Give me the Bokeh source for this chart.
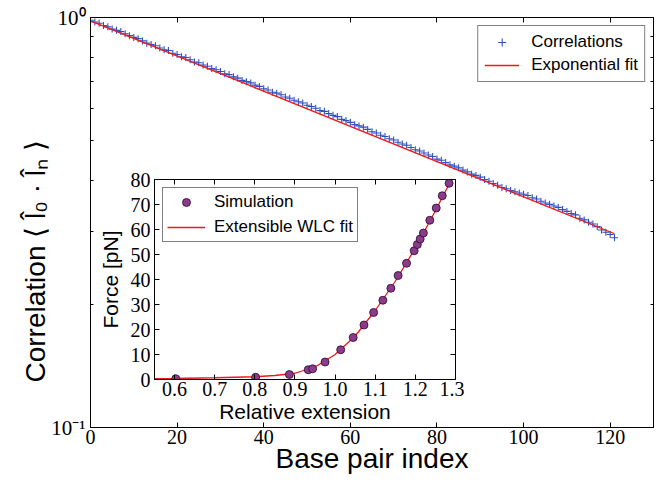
from bokeh.plotting import figure
from bokeh.models import (Range1d, FixedTicker, LinearAxis, LogAxis, CustomJSTickFormatter,
                          PrintfTickFormatter, Legend, LegendItem, GridBox)
from bokeh.embed import file_html
from bokeh.resources import INLINE

# ---------------- data: main panel ----------------
bp_index = list(range(122))
correlation = [
    0.9846, 0.9750, 0.9679, 0.9557, 0.9489, 0.9370, 0.9304, 0.9238, 0.9122, 0.9032,
    0.8943, 0.8880, 0.8768, 0.8658, 0.8596, 0.8535, 0.8428, 0.8345, 0.8310, 0.8182,
    0.8124, 0.8022, 0.7988, 0.7887, 0.7787, 0.7754, 0.7656, 0.7603, 0.7506, 0.7454,
    0.7381, 0.7287, 0.7256, 0.7165, 0.7114, 0.7025, 0.6975, 0.6926, 0.6839, 0.6791,
    0.6705, 0.6658, 0.6573, 0.6538, 0.6481, 0.6400, 0.6354, 0.6285, 0.6230, 0.6186,
    0.6108, 0.6065, 0.6005, 0.5929, 0.5904, 0.5830, 0.5773, 0.5732, 0.5644, 0.5604,
    0.5549, 0.5479, 0.5440, 0.5402, 0.5334, 0.5266, 0.5229, 0.5163, 0.5127, 0.5062,
    0.5027, 0.4963, 0.4914, 0.4880, 0.4818, 0.4758, 0.4724, 0.4672, 0.4619, 0.4581,
    0.4515, 0.4484, 0.4427, 0.4371, 0.4340, 0.4298, 0.4244, 0.4202, 0.4149, 0.4120,
    0.4079, 0.4027, 0.3988, 0.3938, 0.3899, 0.3850, 0.3823, 0.3785, 0.3758, 0.3732,
    0.3705, 0.3680, 0.3633, 0.3608, 0.3562, 0.3527, 0.3502, 0.3468, 0.3443, 0.3400,
    0.3366, 0.3324, 0.3301, 0.3240, 0.3209, 0.3168, 0.3137, 0.3089, 0.3033, 0.2995,
    0.2957, 0.2903,
]
fit_bp = [0, 121]
fit_corr = [0.9817, 0.2969]

x_ticks = [0, 20, 40, 60, 80, 100, 120]
y_major = [0.1, 1.0]
y_major_labels = ["10⁻¹", "10⁰"]
y_minor = [0.2, 0.3, 0.4, 0.5, 0.6, 0.7, 0.8, 0.9]

# ---------------- data: inset ----------------
rel_ext = [0.603, 0.802, 0.886, 0.933, 0.944, 0.975, 1.014, 1.045, 1.072, 1.096, 1.119,
           1.139, 1.157, 1.178, 1.197, 1.205, 1.212, 1.220, 1.236, 1.252, 1.267, 1.284]
force = [0.3, 0.9, 2.0, 3.9, 4.3, 7.0, 11.9, 16.8, 21.8, 26.8, 31.7,
         36.5, 41.6, 46.5, 51.5, 54.0, 56.2, 58.6, 63.7, 68.6, 73.5, 78.5]
wlc_ext = [0.55, 0.60, 0.70, 0.80, 0.85, 0.90, 0.95, 1.00, 1.05, 1.10, 1.15, 1.20, 1.25, 1.29]
wlc_force = [0.3, 0.4, 0.7, 1.1, 1.6, 2.5, 5.0, 10.0, 17.4, 27.6, 39.3, 52.6, 67.5, 80.0]
inset_x_ticks = [0.6, 0.7, 0.8, 0.9, 1.0, 1.1, 1.2, 1.3]
inset_y_ticks = [0, 10, 20, 30, 40, 50, 60, 70, 80]

BLUE = "#2f4fbf"
RED = "#f01818"
PURPLE = "#8c3a8c"
SERIF = "Liberation Serif"
SANS = "Liberation Sans"


def style_axis(ax, label_size="20px", axis_label_size="28px", minor=True):
    ax.axis_line_color = "black"
    ax.axis_line_width = 1
    ax.major_tick_line_color = "black"
    ax.major_tick_in = 5
    ax.major_tick_out = 0
    ax.minor_tick_line_color = "black" if minor else None
    ax.minor_tick_in = 3
    ax.minor_tick_out = 0
    ax.major_label_text_font = SERIF
    ax.major_label_text_font_size = label_size
    ax.major_label_text_color = "black"
    ax.axis_label_text_font = SANS
    ax.axis_label_text_font_size = axis_label_size
    ax.axis_label_text_font_style = "normal"
    ax.axis_label_text_color = "black"


def hide_labels(ax):
    ax.major_label_text_font_size = "0px"
    ax.major_label_standoff = 0
    ax.formatter = CustomJSTickFormatter(code="return '';")


# ---------------- main figure ----------------
p = figure(width=665, height=483, x_range=Range1d(0, 130), y_range=Range1d(0.1, 1.0),
           y_axis_type="log", output_backend="svg", toolbar_location=None,
           min_border_left=90, min_border_right=12, min_border_top=17, min_border_bottom=56)
p.background_fill_color = "white"
p.border_fill_color = "white"
p.outline_line_color = "black"
p.outline_line_width = 1
p.xgrid.visible = False
p.ygrid.visible = False

r_corr = p.scatter(bp_index, correlation, marker="cross", size=7, line_color=BLUE, line_width=1.1)
r_fit = p.line(fit_bp, fit_corr, line_color=RED, line_width=1.3)

xa = p.xaxis[0]
style_axis(xa, minor=False)
xa.ticker = FixedTicker(ticks=x_ticks)
xa.major_label_standoff = 2
xa.axis_label = "Base pair index"
xa.axis_label_standoff = -4

ya = p.yaxis[0]
style_axis(ya, label_size="21px")
ya.ticker = FixedTicker(ticks=y_major, minor_ticks=y_minor)
ya.formatter = CustomJSTickFormatter(
    args=dict(vals=y_major, labs=y_major_labels),
    code="for (let i = 0; i < vals.length; i++) { if (Math.abs(tick - vals[i]) < 1e-9) return labs[i]; } return '';")
ya.major_label_standoff = 5
ya.axis_label = "Correlation ⟨ l̂₀ · l̂ₙ ⟩" + "\u00a0" * 10
ya.axis_label_standoff = -3

top_ax = LinearAxis(ticker=FixedTicker(ticks=x_ticks))
style_axis(top_ax, minor=False)
hide_labels(top_ax)
p.add_layout(top_ax, "above")

right_ax = LogAxis(ticker=FixedTicker(ticks=y_major, minor_ticks=y_minor))
style_axis(right_ax)
hide_labels(right_ax)
p.add_layout(right_ax, "right")

leg = Legend(items=[LegendItem(label="Correlations", renderers=[r_corr]),
                    LegendItem(label="Exponential fit", renderers=[r_fit])],
             location="top_right")
leg.border_line_color = "black"
leg.border_line_width = 1
leg.background_fill_color = "white"
leg.background_fill_alpha = 1
leg.label_text_font = SANS
leg.label_text_font_size = "17px"
leg.label_text_color = "black"
leg.glyph_width = 35
leg.glyph_height = 20
leg.label_height = 20
leg.label_standoff = 12
leg.padding = 6
leg.spacing = 3
leg.margin = 8
p.add_layout(leg)

# ---------------- inset figure ----------------
ins = figure(width=369, height=263, x_range=Range1d(0.55, 1.3), y_range=Range1d(0, 80),
             output_backend="svg", toolbar_location=None,
             min_border_left=58, min_border_right=9, min_border_top=11, min_border_bottom=52)
ins.background_fill_color = "white"
ins.border_fill_color = None
ins.outline_line_color = "black"
ins.outline_line_width = 1
ins.xgrid.visible = False
ins.ygrid.visible = False

r_wlc = ins.line(wlc_ext, wlc_force, line_color=RED, line_width=1.3)
r_sim = ins.scatter(rel_ext, force, marker="circle", size=8, fill_color=PURPLE,
                    line_color="#2a0a2a", line_width=0.8)

ixa = ins.xaxis[0]
style_axis(ixa, label_size="20px", axis_label_size="21px", minor=False)
ixa.ticker = FixedTicker(ticks=inset_x_ticks)
ixa.formatter = PrintfTickFormatter(format="%.1f")
ixa.major_label_standoff = 2
ixa.axis_label = "Relative extension"
ixa.axis_label_standoff = 1

iya = ins.yaxis[0]
style_axis(iya, label_size="20px", axis_label_size="21px", minor=False)
iya.ticker = FixedTicker(ticks=inset_y_ticks)
iya.major_label_standoff = 4
iya.axis_label = "Force [pN]"
iya.axis_label_standoff = 6

itop = LinearAxis(ticker=FixedTicker(ticks=inset_x_ticks))
style_axis(itop, minor=False)
hide_labels(itop)
ins.add_layout(itop, "above")
iright = LinearAxis(ticker=FixedTicker(ticks=inset_y_ticks))
style_axis(iright, minor=False)
hide_labels(iright)
ins.add_layout(iright, "right")

ileg = Legend(items=[LegendItem(label="Simulation", renderers=[r_sim]),
                     LegendItem(label="Extensible WLC fit", renderers=[r_wlc])],
              location="top_left")
ileg.border_line_color = "black"
ileg.border_line_width = 1
ileg.background_fill_color = "white"
ileg.background_fill_alpha = 1
ileg.label_text_font = SANS
ileg.label_text_font_size = "17px"
ileg.label_text_color = "black"
ileg.glyph_width = 38
ileg.glyph_height = 20
ileg.label_height = 20
ileg.label_standoff = 9
ileg.padding = 4
ileg.spacing = 5
ileg.margin = 8
ins.add_layout(ileg)

grid = GridBox(children=[(p, 0, 0, 3, 3), (ins, 1, 1, 1, 1)],
               rows=["168px", "263px", "52px"], cols=["95px", "369px", "201px"],
               width=665, height=483)

with open("out.html", "w", encoding="utf-8") as f:
    f.write(file_html(grid, INLINE))
